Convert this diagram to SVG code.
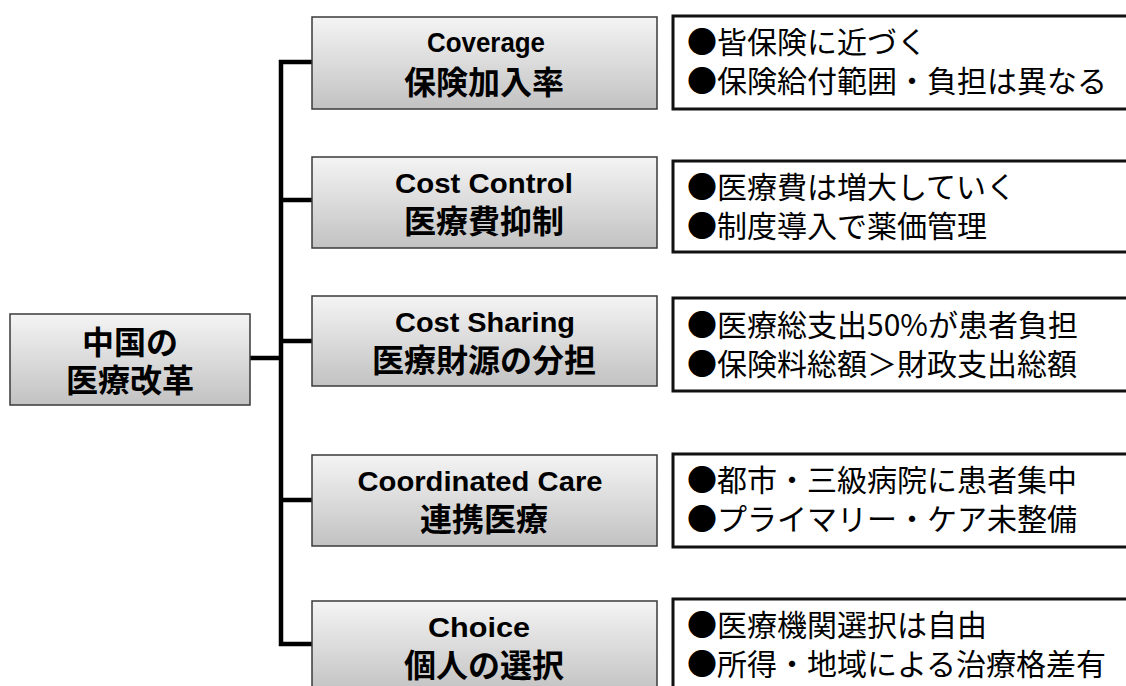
<svg xmlns="http://www.w3.org/2000/svg" width="1126" height="686" viewBox="0 0 1126 686">
<defs>
<linearGradient id="g" x1="0" y1="0" x2="0" y2="1">
<stop offset="0" stop-color="#f4f4f4"/>
<stop offset="1" stop-color="#c2c2c2"/>
</linearGradient>
<style>
.nb{fill:url(#g);stroke:#3a3a3a;stroke-width:1.5}
.db{fill:#fff;stroke:#111;stroke-width:3}
.en{font-family:"Liberation Sans",Arial,sans-serif;font-size:28px;font-weight:bold;fill:#000;text-anchor:middle}
.jp{font-family:"Noto Sans CJK JP",sans-serif;font-weight:bold;font-size:32px;fill:#000;text-anchor:middle}
.dt{font-family:"Noto Sans CJK JP",sans-serif;font-size:30px;fill:#000}
.cn{fill:none;stroke:#000;stroke-width:4.5;stroke-linejoin:miter}
</style>
</defs>
<rect width="1126" height="686" fill="#fff"/>
<g id="connectors">
<path class="cn" d="M312,62 H281 V644 H312"/>
<path class="cn" d="M281,200 H312 M281,341 H312 M281,500 H312 M250,358 H281"/>
</g>
<g id="root">
<rect class="nb" x="10" y="314" width="240" height="91"/>
<text class="jp" x="130" y="354">中国の</text>
<text class="jp" x="130" y="392">医療改革</text>
</g>
<g id="coverage">
<rect class="nb" x="312" y="17" width="345" height="92"/>
<text class="en" x="486" y="52" textLength="118" lengthAdjust="spacingAndGlyphs">Coverage</text>
<text class="jp" x="484" y="94">保険加入率</text>
</g>
<g id="cost-control">
<rect class="nb" x="312" y="157" width="345" height="91"/>
<text class="en" x="484" y="193" textLength="178" lengthAdjust="spacingAndGlyphs">Cost Control</text>
<text class="jp" x="484" y="233">医療費抑制</text>
</g>
<g id="cost-sharing">
<rect class="nb" x="312" y="296" width="345" height="90"/>
<text class="en" x="485" y="332" textLength="180" lengthAdjust="spacingAndGlyphs">Cost Sharing</text>
<text class="jp" x="484" y="372">医療財源の分担</text>
</g>
<g id="coordinated-care">
<rect class="nb" x="312" y="455" width="345" height="91"/>
<text class="en" x="480" y="491" textLength="245" lengthAdjust="spacingAndGlyphs">Coordinated Care</text>
<text class="jp" x="484" y="531">連携医療</text>
</g>
<g id="choice">
<rect class="nb" x="312" y="601" width="345" height="92"/>
<text class="en" x="479" y="637" textLength="102" lengthAdjust="spacingAndGlyphs">Choice</text>
<text class="jp" x="484" y="677">個人の選択</text>
</g>
<g id="detail-coverage">
<rect class="db" x="673" y="16" width="500" height="93"/>
<text class="dt" x="687" y="53">●皆保険に近づく</text>
<text class="dt" x="687" y="92">●保険給付範囲・負担は異なる</text>
</g>
<g id="detail-cost-control">
<rect class="db" x="673" y="161" width="500" height="91"/>
<text class="dt" x="687" y="198">●医療費は増大していく</text>
<text class="dt" x="687" y="237">●制度導入で薬価管理</text>
</g>
<g id="detail-cost-sharing">
<rect class="db" x="673" y="298" width="500" height="93"/>
<text class="dt" x="687" y="336">●医療総支出50%が患者負担</text>
<text class="dt" x="687" y="375">●保険料総額＞財政支出総額</text>
</g>
<g id="detail-coordinated-care">
<rect class="db" x="673" y="454" width="500" height="93"/>
<text class="dt" x="687" y="491">●都市・三級病院に患者集中</text>
<text class="dt" x="687" y="530">●プライマリー・ケア未整備</text>
</g>
<g id="detail-choice">
<rect class="db" x="673" y="599" width="500" height="93"/>
<text class="dt" x="687" y="636">●医療機関選択は自由</text>
<text class="dt" x="687" y="675">●所得・地域による治療格差有</text>
</g>
</svg>
